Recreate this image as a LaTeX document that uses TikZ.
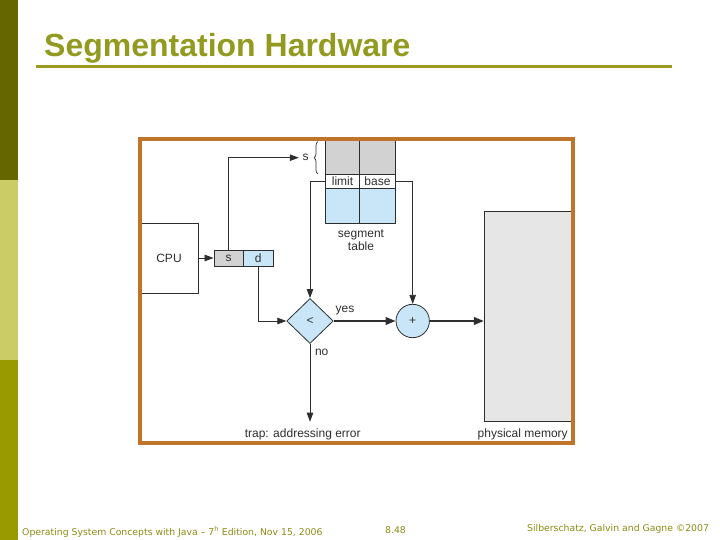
\documentclass[tikz,border=0pt]{standalone}
\usepackage{fontspec}
\setmainfont{Liberation Sans}
\newfontfamily\footfont{DejaVu Sans}
\usetikzlibrary{arrows.meta,shapes.geometric,decorations.pathreplacing}
\definecolor{barA}{HTML}{666600}
\definecolor{barB}{HTML}{CCCC66}
\definecolor{barC}{HTML}{999900}
\definecolor{titlecol}{HTML}{939A20}
\definecolor{rulecol}{HTML}{9A9A22}
\definecolor{footcol}{HTML}{8A8A10}
\definecolor{framecol}{HTML}{C0742A}
\definecolor{cellgray}{HTML}{D2D2D2}
\definecolor{cellblue}{HTML}{C8E6F8}
\definecolor{memgray}{HTML}{E6E6E6}
\definecolor{ink}{HTML}{2E2E2E}
\begin{document}
\begin{tikzpicture}[x=1pt,y=-1pt,
  every node/.style={text=ink, font=\fontsize{12}{13}\selectfont},
  box/.style={draw=ink, line width=0.8pt, rectangle, inner sep=0pt},
  arr/.style={draw=ink, line width=0.8pt, -{Triangle[length=9pt,width=6.5pt]}},
  thickarr/.style={draw=ink, line width=2pt, -{Triangle[length=10pt,width=7.5pt]}},
  foot/.style={anchor=base west, inner sep=0pt, text=footcol, font=\footfont\fontsize{9.3}{11}\selectfont}]
\useasboundingbox (0,0) rectangle (720,540);
% left bar
\fill[barA] (0,0) rectangle (18,180);
\fill[barB] (0,180) rectangle (18,360);
\fill[barC] (0,360) rectangle (18,540);
% title
\node[anchor=base west, inner sep=0pt, text=titlecol, font=\fontsize{32}{38}\selectfont\bfseries] (title) at (44,57) {Segmentation Hardware};
\fill[rulecol] (36,65.5) rectangle (672,68.5);
% segment table
\node[box, fill=cellgray, minimum width=33.6pt, minimum height=35pt] (tg1) at (342.5,156.5) {};
\node[box, fill=cellgray, minimum width=36.4pt, minimum height=35pt] (tg2) at (377.5,156.5) {};
\node[box, fill=white, minimum width=33.6pt, minimum height=14.3pt] (lim) at (342.5,181.2) {limit};
\node[box, fill=white, minimum width=36.4pt, minimum height=14.3pt] (bas) at (377.5,181.2) {base};
\node[box, fill=cellblue, minimum width=33.6pt, minimum height=35pt] (tb1) at (342.5,205.8) {};
\node[box, fill=cellblue, minimum width=36.4pt, minimum height=35pt] (tb2) at (377.5,205.8) {};
\node[align=center, inner sep=0pt] (segt) at (361,240) {segment\\table};
% CPU and address
\node[box, minimum width=58pt, minimum height=70pt] (cpu) at (169,258) {CPU};
\node[box, fill=cellgray, minimum width=29.3pt, minimum height=16pt] (sbox) at (228.6,258) {s};
\node[box, fill=cellblue, minimum width=30pt, minimum height=16pt] (dbox) at (258.3,258) {d};
% s label and brace
\node[inner sep=1.5pt] (slab) at (305.5,157.7) {s};
\draw[ink, line width=0.7pt, decorate, decoration={brace, amplitude=4pt}] (318,174) -- (318,141.5);
% comparator and adder
\node[draw=ink, line width=0.8pt, diamond, fill=cellblue, minimum width=46.6pt, minimum height=45pt, inner sep=0pt] (cmp) at (310,321) {<};
\node[draw=ink, line width=0.8pt, circle, fill=cellblue, minimum size=33.4pt, inner sep=0pt] (add) at (412.7,321) {+};
% physical memory
\node[box, fill=memgray, minimum width=88.7pt, minimum height=210pt] (mem) at (528.65,316.7) {};
\node (memlab) at (522.7,434) {physical memory};
\node (trap) at (302.7,434) {trap: addressing error};
\coordinate (trapend) at (310,421.7);
\node (yes) at (345,311) {yes};
\node (no) at (321.7,352.7) {no};
% connectors
\draw[arr] (cpu.east) -- (sbox.west);
\draw[arr, shorten >=2pt] (sbox.north) |- (slab.west);
\draw[arr] (lim.west) -| (cmp.north);
\draw[arr] (bas.east) -| (add.north);
\draw[arr] (dbox.south) |- (cmp.west);
\draw[thickarr] (cmp.east) -- (add.west);
\draw[thickarr] (add.east) -- (add.east -| mem.west);
\draw[arr] (cmp.south) -- (trapend);
% frame
\draw[framecol, line width=4pt] (140,139) rectangle (573,443);
% footer
\node[foot] (f1) at (22,535) {Operating System Concepts with Java – 7\textsuperscript{h} Edition, Nov 15, 2006};
\node[foot] (f2) at (385,533.5) {8.48};
\node[foot] (f3) at (527,531) {Silberschatz, Galvin and Gagne ©2007};
\end{tikzpicture}
\end{document}
